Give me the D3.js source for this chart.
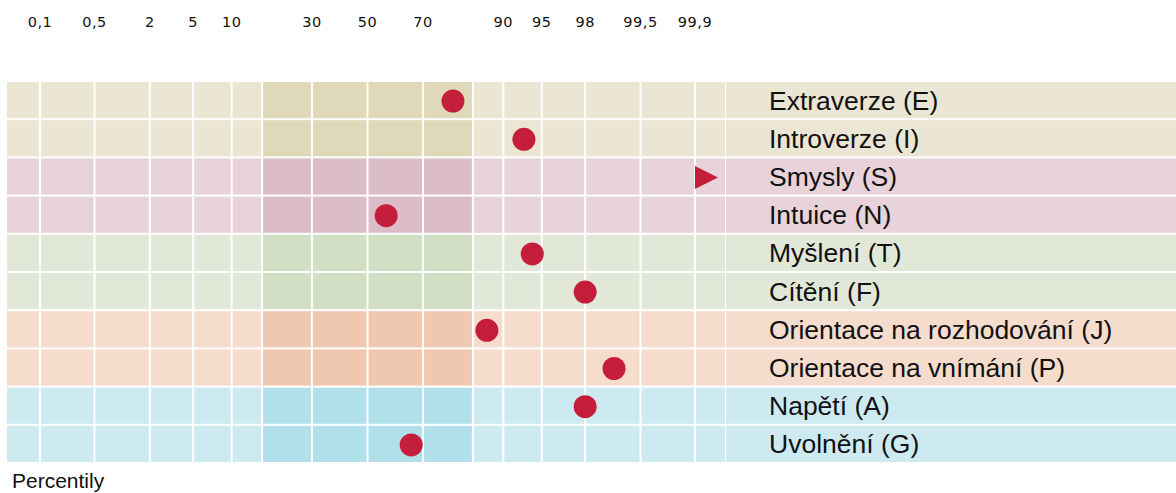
<!DOCTYPE html>
<html>
<head>
<meta charset="utf-8">
<script src="https://cdn.jsdelivr.net/npm/d3@7"></script>
<style>
  html, body { margin: 0; padding: 0; background: #ffffff; }
  svg { display: block; }
</style>
</head>
<body>
<svg id="chart" width="1176" height="493"></svg>
<script>
// ---- data ----
const categories = ["Extraverze (E)", "Introverze (I)", "Smysly (S)", "Intuice (N)", "Myšlení (T)",
  "Cítění (F)", "Orientace na rozhodování (J)", "Orientace na vnímání (P)", "Napětí (A)", "Uvolnění (G)"];
const groups = ["EI", "EI", "SN", "SN", "TF", "TF", "JP", "JP", "AG", "AG"];
const percentiles = [79, 93, 99.95, 57, 94, 98, 87, 99, 98, 66];
const tickValues = [0.1, 0.5, 2, 5, 10, 30, 50, 70, 90, 95, 98, 99.5, 99.9];
const tickLabels = ["0,1", "0,5", "2", "5", "10", "30", "50", "70", "90", "95", "98", "99,5", "99,9"];
const gridValues = [0.1, 0.5, 2, 5, 10, 16, 30, 50, 70, 84, 90, 95, 98, 99.5, 99.9];
const bandLow = 16, bandHigh = 84;
const axisTitle = "Percentily";

const lightColors = { EI: "#ebe5d3", SN: "#e8d3da", TF: "#e1e8d8", JP: "#f5dccd", AG: "#cdeaf1" };
const darkColors  = { EI: "#dfd8b9", SN: "#dcbcc8", TF: "#d1dfc5", JP: "#f0c8af", AG: "#b2e0ea" };
const markColor = "#c41e3a";

// inverse standard normal CDF (Acklam)
function probit(p) {
  const a = [-3.969683028665376e+01, 2.209460984245205e+02, -2.759285104469687e+02, 1.383577518672690e+02, -3.066479806614716e+01, 2.506628277459239e+00];
  const b = [-5.447609879822406e+01, 1.615858368580409e+02, -1.556989798598866e+02, 6.680131188771972e+01, -1.328068155288572e+01];
  const c = [-7.784894002430293e-03, -3.223964580411365e-01, -2.400758277161838e+00, -2.549732539343734e+00, 4.374664141464968e+00, 2.938163982698783e+00];
  const d = [7.784695709041462e-03, 3.224671290700398e-01, 2.445134137142996e+00, 3.754408661907416e+00];
  const pl = 0.02425, ph = 1 - pl;
  let q, r;
  if (p < pl) {
    q = Math.sqrt(-2 * Math.log(p));
    return (((((c[0]*q+c[1])*q+c[2])*q+c[3])*q+c[4])*q+c[5]) / ((((d[0]*q+d[1])*q+d[2])*q+d[3])*q+1);
  } else if (p <= ph) {
    q = p - 0.5; r = q*q;
    return (((((a[0]*r+a[1])*r+a[2])*r+a[3])*r+a[4])*r+a[5])*q / (((((b[0]*r+b[1])*r+b[2])*r+b[3])*r+b[4])*r+1);
  } else {
    q = Math.sqrt(-2 * Math.log(1 - p));
    return -(((((c[0]*q+c[1])*q+c[2])*q+c[3])*q+c[4])*q+c[5]) / ((((d[0]*q+d[1])*q+d[2])*q+d[3])*q+1);
  }
}

(function () {
const svg = d3.select("#chart");
const gridLeft = 7, gridRight = 725, labelRight = 1176;
const gridTop = 82, gridBottom = 462;

const z = d3.scaleLinear().domain([probit(0.001), probit(0.999)]).range([40, 695]);
const x = pct => z(probit(pct / 100));
const y = d3.scaleBand().domain(categories).range([gridTop, gridBottom]).paddingInner(0.053).paddingOuter(0);

const maxPct = 99.9;
const edges = [gridLeft, ...gridValues.map(x), gridRight];

// cells
const gap = 1;
categories.forEach((cat, i) => {
  const g = groups[i];
  const row = svg.append("g");
  for (let k = 0; k < edges.length - 1; k++) {
    const x0 = edges[k], x1 = edges[k + 1];
    let dark = false;
    if (k >= 1 && k <= gridValues.length - 1) {
      const lo = gridValues[k - 1];
      dark = lo >= bandLow && lo < bandHigh;
    }
    row.append("rect")
      .attr("x", k === 0 ? x0 : x0 + gap)
      .attr("y", y(cat))
      .attr("width", (x1 - x0) - (k === 0 ? gap : 2 * gap) + (k === edges.length - 2 ? gap : 0))
      .attr("height", y.bandwidth())
      .attr("fill", dark ? darkColors[g] : lightColors[g]);
  }
  // label area
  row.append("rect")
    .attr("x", gridRight + 1)
    .attr("y", y(cat))
    .attr("width", labelRight - gridRight - 1)
    .attr("height", y.bandwidth())
    .attr("fill", lightColors[g]);
  row.append("text")
    .attr("x", 769)
    .attr("y", y(cat) + y.bandwidth() / 2)
    .attr("dy", "0.36em")
    .attr("font-family", "'Liberation Sans', Arial, Helvetica, sans-serif")
    .attr("font-size", 26.5)
    .attr("fill", "#111")
    .text(cat);
});

// tick labels
svg.append("g").selectAll("text")
  .data(tickValues)
  .join("text")
  .attr("x", d => x(d))
  .attr("y", 27)
  .attr("text-anchor", "middle")
  .attr("font-family", "'DejaVu Sans', Verdana, sans-serif")
  .attr("font-size", 14.5)
  .attr("letter-spacing", 0.5)
  .attr("fill", "#111")
  .text((d, i) => tickLabels[i]);

// marks
categories.forEach((cat, i) => {
  const p = percentiles[i];
  const cy = y(cat) + y.bandwidth() / 2 + 1;
  if (p > maxPct) {
    const x0 = x(maxPct);
    svg.append("path")
      .attr("d", d3.line()([[x0, cy - 11.5], [x0 + 23, cy], [x0, cy + 11.5]]) + "Z")
      .attr("fill", markColor);
  } else {
    svg.append("circle")
      .attr("cx", x(p))
      .attr("cy", cy)
      .attr("r", 11.5)
      .attr("fill", markColor);
  }
});

svg.append("text")
  .attr("x", 12)
  .attr("y", 488)
  .attr("font-family", "'Liberation Sans', Arial, Helvetica, sans-serif")
  .attr("font-size", 21)
  .attr("fill", "#111")
  .text(axisTitle);
})();
</script>
</body>
</html>
